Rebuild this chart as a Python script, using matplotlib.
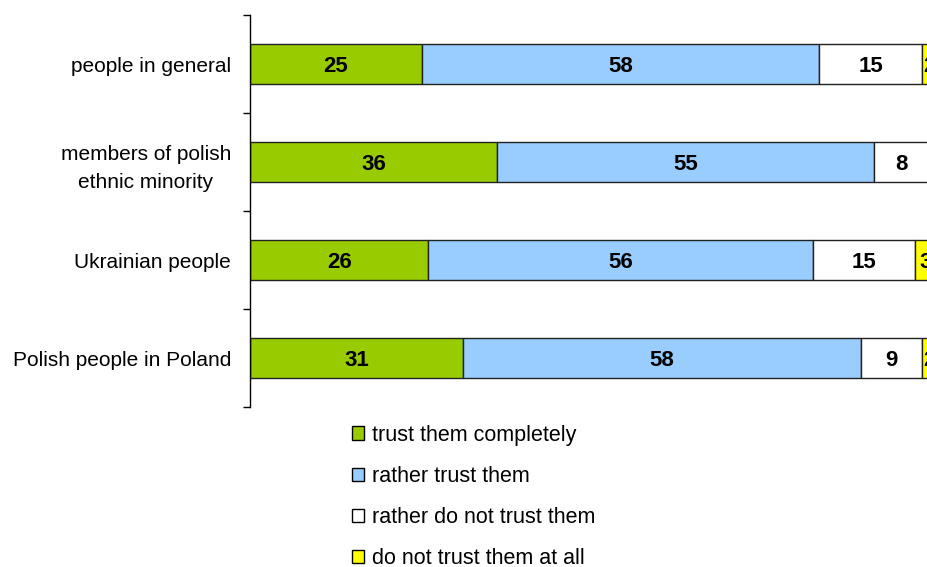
import matplotlib.pyplot as plt
from matplotlib.patches import Patch
import numpy as np

# Colors used in the plot
GREEN = '#99cc00'
BLUE = '#99ccff'
WHITE = '#ffffff'
YELLOW = '#ffff00'

categories = ["people in general", "members of polish\nethnic minority",
              "Ukrainian people", "Polish people in Poland"]
series_names = ["trust them completely", "rather trust them",
                "rather do not trust them", "do not trust them at all"]
trust_completely = [25, 36, 26, 31]
rather_trust = [58, 55, 56, 58]
rather_not_trust = [15, 8, 15, 9]
not_trust_at_all = [2, 1, 3, 2]

plt.rcParams['font.family'] = ['Liberation Sans', 'DejaVu Sans']

fig = plt.figure(figsize=(9.28, 5.67), dpi=100)
# the right end of the axis (100%) lies just past the picture edge
ax = fig.add_axes([250 / 928, 1 - 407 / 567, 686 / 928, 392 / 567])

series = [trust_completely, rather_trust, rather_not_trust, not_trust_at_all]
colors = [GREEN, BLUE, WHITE, YELLOW]
y = np.arange(len(categories))
left = np.zeros(len(categories))
for vals, color in zip(series, colors):
    vals = np.array(vals, dtype=float)
    ax.barh(y, vals, left=left, height=0.4, color=color, edgecolor='#222222', linewidth=1)
    for yi, (l, v) in enumerate(zip(left, vals)):
        ax.text(l + v / 2, yi, f"{int(v)}", ha='center', va='center_baseline',
                fontsize=16, fontweight='bold', color='black', clip_on=False)
    left += vals

ax.set_xlim(0, 100)
ax.set_ylim(len(categories) - 0.5, -0.5)

# category labels at centres, ticks at the boundaries
ax.set_yticks(y)
ax.set_yticklabels(categories, fontsize=15, multialignment='center', linespacing=1.62)
ax.tick_params(axis='y', which='major', length=0, pad=13.7)
ax.set_yticks(np.arange(-0.5, len(categories), 1), minor=True)
ax.tick_params(axis='y', which='minor', length=5, width=1, direction='out')
ax.set_xticks([])

for side in ['top', 'right', 'bottom']:
    ax.spines[side].set_visible(False)
ax.spines['left'].set_linewidth(1)

handles = [Patch(facecolor=c, edgecolor='black', linewidth=1) for c in colors]
fig.legend(handles, series_names, loc='upper left', bbox_to_anchor=(343 / 928, 1 - 416 / 567),
           frameon=False, fontsize=15.5, handlelength=0.56, handleheight=0.56,
           handletextpad=0.37, labelspacing=0.94, borderaxespad=0)

fig.savefig("out.png", dpi=100)
